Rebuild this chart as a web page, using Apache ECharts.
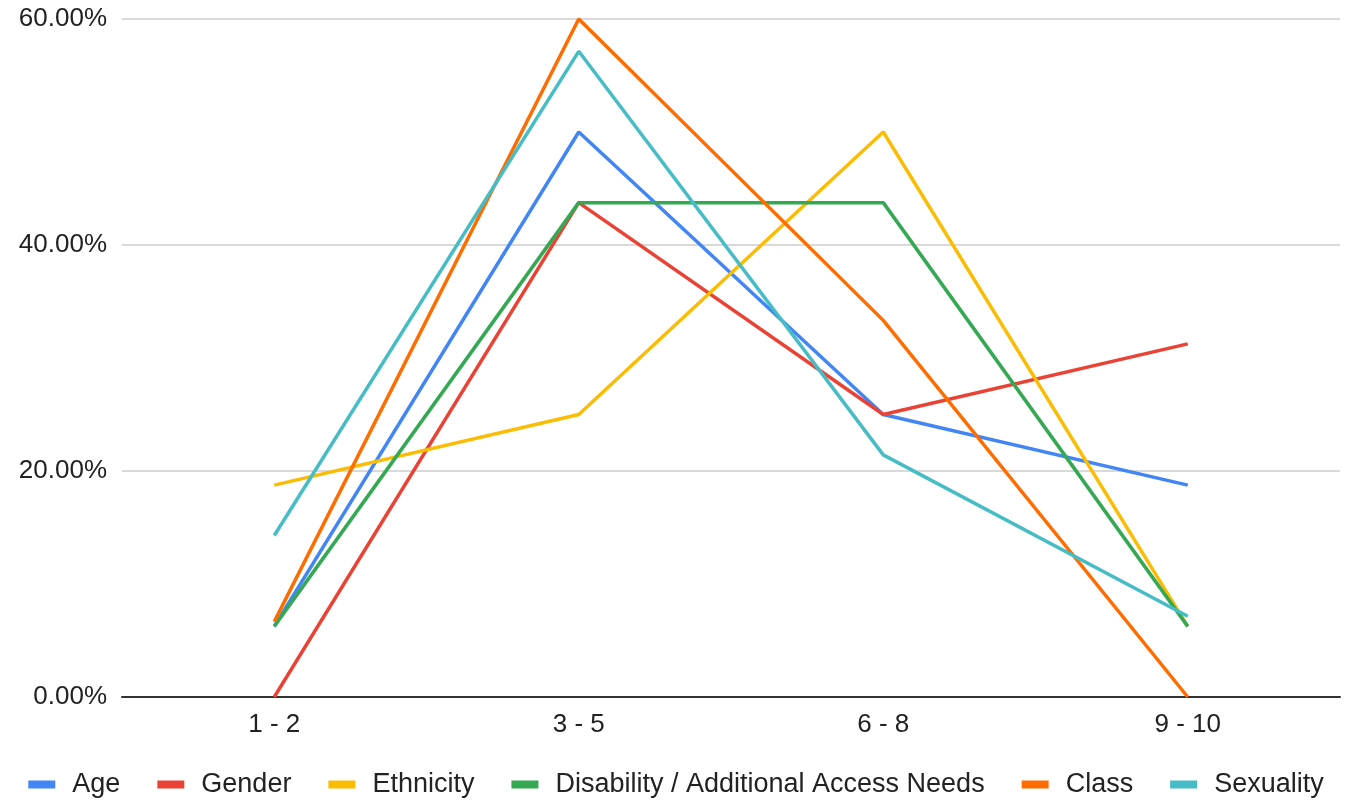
<!DOCTYPE html>
<html>
<head>
<meta charset="utf-8">
<script src="https://cdn.jsdelivr.net/npm/echarts@6/dist/echarts.min.js"></script>
<style>
  html, body { margin: 0; padding: 0; background: #fff; }
  #chart { width: 1352px; height: 800px; }
</style>
</head>
<body>
<div id="chart"></div>
<script>
// Rating bands along the x axis
const categories = ['1 - 2', '3 - 5', '6 - 8', '9 - 10'];

// Share of responses (%) per rating band for each dimension
const age = [6.25, 50, 25, 18.75];
const gender = [0, 43.75, 25, 31.25];
const ethnicity = [18.75, 25, 50, 6.25];
const disability = [6.25, 43.75, 43.75, 6.25];
const classShare = [6.67, 60, 33.33, 0];
const sexuality = [14.29, 57.14, 21.43, 7.14];

const yTicks = [0, 20, 40, 60];

const seriesDefs = [
  { name: 'Age', data: age, color: '#4285F4' },
  { name: 'Gender', data: gender, color: '#EA4335' },
  { name: 'Ethnicity', data: ethnicity, color: '#FBBC04' },
  { name: 'Disability / Additional Access Needs', data: disability, color: '#34A853' },
  { name: 'Class', data: classShare, color: '#FF6D01' },
  { name: 'Sexuality', data: sexuality, color: '#46BDC6' }
];

const FONT = '"Liberation Sans", Arial, sans-serif';

const chart = echarts.init(document.getElementById('chart'));
chart.setOption({
  animation: false,
  textStyle: { fontFamily: FONT },
  grid: { left: 122, right: 12, top: 19, bottom: 103 },
  legend: {
    top: 766,
    left: 'center',
    itemWidth: 27,
    itemHeight: 8,
    itemGap: 37,
    icon: 'rect',
    textStyle: { fontFamily: FONT, fontSize: 27, color: '#222', padding: [0, 0, 0, 12] },
    data: seriesDefs.map(s => s.name)
  },
  xAxis: {
    type: 'category',
    data: categories,
    boundaryGap: true,
    axisTick: { show: false },
    axisLine: { lineStyle: { color: '#333', width: 2 } },
    axisLabel: { fontFamily: FONT, fontSize: 26, color: '#222', margin: 15 }
  },
  yAxis: {
    type: 'value',
    min: yTicks[0],
    max: yTicks[yTicks.length - 1],
    interval: 20,
    axisLine: { show: false },
    axisTick: { show: false },
    axisLabel: {
      fontFamily: FONT, fontSize: 26, color: '#222', margin: 15,
      formatter: v => v.toFixed(2) + '%'
    },
    splitLine: { lineStyle: { color: '#ccc', width: 1.5 } }
  },
  series: seriesDefs.map(s => ({
    name: s.name,
    type: 'line',
    data: s.data,
    symbol: 'none',
    color: s.color,
    lineStyle: { width: 3.5, color: s.color }
  }))
});
</script>
</body>
</html>
